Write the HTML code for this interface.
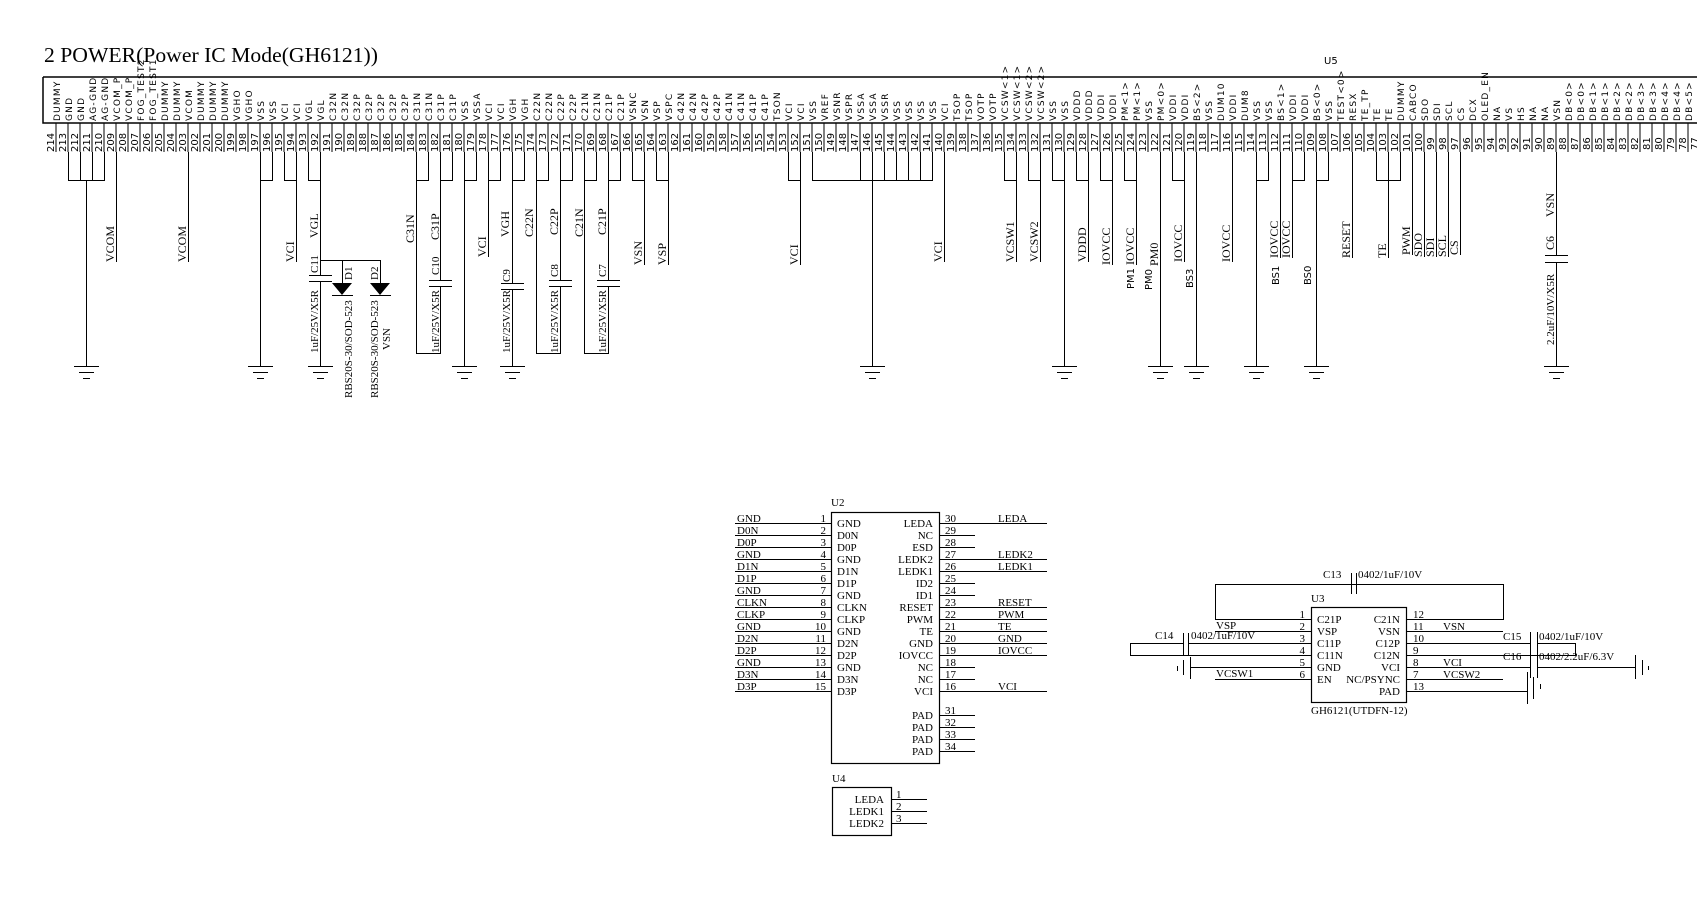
<!DOCTYPE html>
<html><head><meta charset="utf-8"><style>
html,body{margin:0;padding:0;background:#fff;}
svg{display:block;}
.s{font-family:"DejaVu Sans","Liberation Sans",sans-serif;font-size:9px;letter-spacing:1.2px;}
.n{font-family:"DejaVu Sans","Liberation Sans",sans-serif;font-size:10px;}
.r{font-family:"Liberation Serif",serif;font-size:12px;}
.t{font-family:"Liberation Serif",serif;font-size:11px;}
.ss{font-family:"DejaVu Sans","Liberation Sans",sans-serif;font-size:11px;}
</style></head><body>
<svg width="1697" height="907" viewBox="0 0 1697 907" xmlns="http://www.w3.org/2000/svg">
<defs><pattern id="pp" patternUnits="userSpaceOnUse" x="55.5" y="0" width="12" height="10"><rect x="0" y="0" width="1" height="10" fill="#000"/></pattern></defs>
<rect width="1697" height="907" fill="#fff"/>
<text x="44" y="62" font-family="Liberation Serif,serif" font-size="21" textLength="334" lengthAdjust="spacingAndGlyphs">2 POWER(Power IC Mode(GH6121))</text>
<text x="1324" y="64" class="n">U5</text>
<path d="M43 77H1700M43 77V123H1700" stroke="#000" stroke-width="1.5" fill="none"/>
<rect x="55.5" y="123" width="1645" height="29" fill="url(#pp)"/>

<g class="s">
<text transform="translate(60 121)rotate(-90)">DUMMY</text><text transform="translate(72 121)rotate(-90)">GND</text><text transform="translate(84 121)rotate(-90)">GND</text><text transform="translate(96 121)rotate(-90)">AG-GND</text><text transform="translate(108 121)rotate(-90)">AG-GND</text><text transform="translate(120 121)rotate(-90)">VCOM_P</text><text transform="translate(132 121)rotate(-90)">VCOM_P</text><text transform="translate(144 121)rotate(-90)">FOG_TEST2</text><text transform="translate(156 121)rotate(-90)">FOG_TEST1</text><text transform="translate(168 121)rotate(-90)">DUMMY</text><text transform="translate(180 121)rotate(-90)">DUMMY</text><text transform="translate(192 121)rotate(-90)">VCOM</text><text transform="translate(204 121)rotate(-90)">DUMMY</text><text transform="translate(216 121)rotate(-90)">DUMMY</text><text transform="translate(228 121)rotate(-90)">DUMMY</text><text transform="translate(240 121)rotate(-90)">VGHO</text><text transform="translate(252 121)rotate(-90)">VGHO</text><text transform="translate(264 121)rotate(-90)">VSS</text><text transform="translate(276 121)rotate(-90)">VSS</text><text transform="translate(288 121)rotate(-90)">VCI</text><text transform="translate(300 121)rotate(-90)">VCI</text><text transform="translate(312 121)rotate(-90)">VGL</text><text transform="translate(324 121)rotate(-90)">VGL</text><text transform="translate(336 121)rotate(-90)">C32N</text><text transform="translate(348 121)rotate(-90)">C32N</text><text transform="translate(360 121)rotate(-90)">C32P</text><text transform="translate(372 121)rotate(-90)">C32P</text><text transform="translate(384 121)rotate(-90)">C32P</text><text transform="translate(396 121)rotate(-90)">C32P</text><text transform="translate(408 121)rotate(-90)">C32P</text><text transform="translate(420 121)rotate(-90)">C31N</text><text transform="translate(432 121)rotate(-90)">C31N</text><text transform="translate(444 121)rotate(-90)">C31P</text><text transform="translate(456 121)rotate(-90)">C31P</text><text transform="translate(468 121)rotate(-90)">VSS</text><text transform="translate(480 121)rotate(-90)">VSSA</text><text transform="translate(492 121)rotate(-90)">VCI</text><text transform="translate(504 121)rotate(-90)">VCI</text><text transform="translate(516 121)rotate(-90)">VGH</text><text transform="translate(528 121)rotate(-90)">VGH</text><text transform="translate(540 121)rotate(-90)">C22N</text><text transform="translate(552 121)rotate(-90)">C22N</text><text transform="translate(564 121)rotate(-90)">C22P</text><text transform="translate(576 121)rotate(-90)">C22P</text><text transform="translate(588 121)rotate(-90)">C21N</text><text transform="translate(600 121)rotate(-90)">C21N</text><text transform="translate(612 121)rotate(-90)">C21P</text><text transform="translate(624 121)rotate(-90)">C21P</text><text transform="translate(636 121)rotate(-90)">VSNC</text><text transform="translate(648 121)rotate(-90)">VSN</text><text transform="translate(660 121)rotate(-90)">VSP</text><text transform="translate(672 121)rotate(-90)">VSPC</text><text transform="translate(684 121)rotate(-90)">C42N</text><text transform="translate(696 121)rotate(-90)">C42N</text><text transform="translate(708 121)rotate(-90)">C42P</text><text transform="translate(720 121)rotate(-90)">C42P</text><text transform="translate(732 121)rotate(-90)">C41N</text><text transform="translate(744 121)rotate(-90)">C41N</text><text transform="translate(756 121)rotate(-90)">C41P</text><text transform="translate(768 121)rotate(-90)">C41P</text><text transform="translate(780 121)rotate(-90)">TSON</text><text transform="translate(792 121)rotate(-90)">VCI</text><text transform="translate(804 121)rotate(-90)">VCI</text><text transform="translate(816 121)rotate(-90)">VSS</text><text transform="translate(828 121)rotate(-90)">VREF</text><text transform="translate(840 121)rotate(-90)">VSNR</text><text transform="translate(852 121)rotate(-90)">VSPR</text><text transform="translate(864 121)rotate(-90)">VSSA</text><text transform="translate(876 121)rotate(-90)">VSSA</text><text transform="translate(888 121)rotate(-90)">VSSR</text><text transform="translate(900 121)rotate(-90)">VSS</text><text transform="translate(912 121)rotate(-90)">VSS</text><text transform="translate(924 121)rotate(-90)">VSS</text><text transform="translate(936 121)rotate(-90)">VSS</text><text transform="translate(948 121)rotate(-90)">VCI</text><text transform="translate(960 121)rotate(-90)">TSOP</text><text transform="translate(972 121)rotate(-90)">TSOP</text><text transform="translate(984 121)rotate(-90)">VOTP</text><text transform="translate(996 121)rotate(-90)">VOTP</text><text transform="translate(1008 121)rotate(-90)">VCSW&lt;1&gt;</text><text transform="translate(1020 121)rotate(-90)">VCSW&lt;1&gt;</text><text transform="translate(1032 121)rotate(-90)">VCSW&lt;2&gt;</text><text transform="translate(1044 121)rotate(-90)">VCSW&lt;2&gt;</text><text transform="translate(1056 121)rotate(-90)">VSS</text><text transform="translate(1068 121)rotate(-90)">VSS</text><text transform="translate(1080 121)rotate(-90)">VDDD</text><text transform="translate(1092 121)rotate(-90)">VDDD</text><text transform="translate(1104 121)rotate(-90)">VDDI</text><text transform="translate(1116 121)rotate(-90)">VDDI</text><text transform="translate(1128 121)rotate(-90)">PM&lt;1&gt;</text><text transform="translate(1140 121)rotate(-90)">PM&lt;1&gt;</text><text transform="translate(1152 121)rotate(-90)">VSS</text><text transform="translate(1164 121)rotate(-90)">PM&lt;0&gt;</text><text transform="translate(1176 121)rotate(-90)">VDDI</text><text transform="translate(1188 121)rotate(-90)">VDDI</text><text transform="translate(1200 121)rotate(-90)">BS&lt;2&gt;</text><text transform="translate(1212 121)rotate(-90)">VSS</text><text transform="translate(1224 121)rotate(-90)">DUM10</text><text transform="translate(1236 121)rotate(-90)">VDDI</text><text transform="translate(1248 121)rotate(-90)">DUM8</text><text transform="translate(1260 121)rotate(-90)">VSS</text><text transform="translate(1272 121)rotate(-90)">VSS</text><text transform="translate(1284 121)rotate(-90)">BS&lt;1&gt;</text><text transform="translate(1296 121)rotate(-90)">VDDI</text><text transform="translate(1308 121)rotate(-90)">VDDI</text><text transform="translate(1320 121)rotate(-90)">BS&lt;0&gt;</text><text transform="translate(1332 121)rotate(-90)">VSS</text><text transform="translate(1344 121)rotate(-90)">TEST&lt;0&gt;</text><text transform="translate(1356 121)rotate(-90)">RESX</text><text transform="translate(1368 121)rotate(-90)">TE_TP</text><text transform="translate(1380 121)rotate(-90)">TE</text><text transform="translate(1392 121)rotate(-90)">TE</text><text transform="translate(1404 121)rotate(-90)">DUMMY</text><text transform="translate(1416 121)rotate(-90)">CABCO</text><text transform="translate(1428 121)rotate(-90)">SDO</text><text transform="translate(1440 121)rotate(-90)">SDI</text><text transform="translate(1452 121)rotate(-90)">SCL</text><text transform="translate(1464 121)rotate(-90)">CS</text><text transform="translate(1476 121)rotate(-90)">DCX</text><text transform="translate(1488 121)rotate(-90)">OLED_EN</text><text transform="translate(1500 121)rotate(-90)">NA</text><text transform="translate(1512 121)rotate(-90)">VS</text><text transform="translate(1524 121)rotate(-90)">HS</text><text transform="translate(1536 121)rotate(-90)">NA</text><text transform="translate(1548 121)rotate(-90)">NA</text><text transform="translate(1560 121)rotate(-90)">VSN</text><text transform="translate(1572 121)rotate(-90)">DB&lt;0&gt;</text><text transform="translate(1584 121)rotate(-90)">DB&lt;0&gt;</text><text transform="translate(1596 121)rotate(-90)">DB&lt;1&gt;</text><text transform="translate(1608 121)rotate(-90)">DB&lt;1&gt;</text><text transform="translate(1620 121)rotate(-90)">DB&lt;2&gt;</text><text transform="translate(1632 121)rotate(-90)">DB&lt;2&gt;</text><text transform="translate(1644 121)rotate(-90)">DB&lt;3&gt;</text><text transform="translate(1656 121)rotate(-90)">DB&lt;3&gt;</text><text transform="translate(1668 121)rotate(-90)">DB&lt;4&gt;</text><text transform="translate(1680 121)rotate(-90)">DB&lt;4&gt;</text><text transform="translate(1692 121)rotate(-90)">DB&lt;5&gt;</text>
</g>

<g class="n">
<text transform="translate(54 152)rotate(-90)">214</text><text transform="translate(66 152)rotate(-90)">213</text><text transform="translate(78 152)rotate(-90)">212</text><text transform="translate(90 152)rotate(-90)">211</text><text transform="translate(102 152)rotate(-90)">210</text><text transform="translate(114 152)rotate(-90)">209</text><text transform="translate(126 152)rotate(-90)">208</text><text transform="translate(138 152)rotate(-90)">207</text><text transform="translate(150 152)rotate(-90)">206</text><text transform="translate(162 152)rotate(-90)">205</text><text transform="translate(174 152)rotate(-90)">204</text><text transform="translate(186 152)rotate(-90)">203</text><text transform="translate(198 152)rotate(-90)">202</text><text transform="translate(210 152)rotate(-90)">201</text><text transform="translate(222 152)rotate(-90)">200</text><text transform="translate(234 152)rotate(-90)">199</text><text transform="translate(246 152)rotate(-90)">198</text><text transform="translate(258 152)rotate(-90)">197</text><text transform="translate(270 152)rotate(-90)">196</text><text transform="translate(282 152)rotate(-90)">195</text><text transform="translate(294 152)rotate(-90)">194</text><text transform="translate(306 152)rotate(-90)">193</text><text transform="translate(318 152)rotate(-90)">192</text><text transform="translate(330 152)rotate(-90)">191</text><text transform="translate(342 152)rotate(-90)">190</text><text transform="translate(354 152)rotate(-90)">189</text><text transform="translate(366 152)rotate(-90)">188</text><text transform="translate(378 152)rotate(-90)">187</text><text transform="translate(390 152)rotate(-90)">186</text><text transform="translate(402 152)rotate(-90)">185</text><text transform="translate(414 152)rotate(-90)">184</text><text transform="translate(426 152)rotate(-90)">183</text><text transform="translate(438 152)rotate(-90)">182</text><text transform="translate(450 152)rotate(-90)">181</text><text transform="translate(462 152)rotate(-90)">180</text><text transform="translate(474 152)rotate(-90)">179</text><text transform="translate(486 152)rotate(-90)">178</text><text transform="translate(498 152)rotate(-90)">177</text><text transform="translate(510 152)rotate(-90)">176</text><text transform="translate(522 152)rotate(-90)">175</text><text transform="translate(534 152)rotate(-90)">174</text><text transform="translate(546 152)rotate(-90)">173</text><text transform="translate(558 152)rotate(-90)">172</text><text transform="translate(570 152)rotate(-90)">171</text><text transform="translate(582 152)rotate(-90)">170</text><text transform="translate(594 152)rotate(-90)">169</text><text transform="translate(606 152)rotate(-90)">168</text><text transform="translate(618 152)rotate(-90)">167</text><text transform="translate(630 152)rotate(-90)">166</text><text transform="translate(642 152)rotate(-90)">165</text><text transform="translate(654 152)rotate(-90)">164</text><text transform="translate(666 152)rotate(-90)">163</text><text transform="translate(678 152)rotate(-90)">162</text><text transform="translate(690 152)rotate(-90)">161</text><text transform="translate(702 152)rotate(-90)">160</text><text transform="translate(714 152)rotate(-90)">159</text><text transform="translate(726 152)rotate(-90)">158</text><text transform="translate(738 152)rotate(-90)">157</text><text transform="translate(750 152)rotate(-90)">156</text><text transform="translate(762 152)rotate(-90)">155</text><text transform="translate(774 152)rotate(-90)">154</text><text transform="translate(786 152)rotate(-90)">153</text><text transform="translate(798 152)rotate(-90)">152</text><text transform="translate(810 152)rotate(-90)">151</text><text transform="translate(822 152)rotate(-90)">150</text><text transform="translate(834 152)rotate(-90)">149</text><text transform="translate(846 152)rotate(-90)">148</text><text transform="translate(858 152)rotate(-90)">147</text><text transform="translate(870 152)rotate(-90)">146</text><text transform="translate(882 152)rotate(-90)">145</text><text transform="translate(894 152)rotate(-90)">144</text><text transform="translate(906 152)rotate(-90)">143</text><text transform="translate(918 152)rotate(-90)">142</text><text transform="translate(930 152)rotate(-90)">141</text><text transform="translate(942 152)rotate(-90)">140</text><text transform="translate(954 152)rotate(-90)">139</text><text transform="translate(966 152)rotate(-90)">138</text><text transform="translate(978 152)rotate(-90)">137</text><text transform="translate(990 152)rotate(-90)">136</text><text transform="translate(1002 152)rotate(-90)">135</text><text transform="translate(1014 152)rotate(-90)">134</text><text transform="translate(1026 152)rotate(-90)">133</text><text transform="translate(1038 152)rotate(-90)">132</text><text transform="translate(1050 152)rotate(-90)">131</text><text transform="translate(1062 152)rotate(-90)">130</text><text transform="translate(1074 152)rotate(-90)">129</text><text transform="translate(1086 152)rotate(-90)">128</text><text transform="translate(1098 152)rotate(-90)">127</text><text transform="translate(1110 152)rotate(-90)">126</text><text transform="translate(1122 152)rotate(-90)">125</text><text transform="translate(1134 152)rotate(-90)">124</text><text transform="translate(1146 152)rotate(-90)">123</text><text transform="translate(1158 152)rotate(-90)">122</text><text transform="translate(1170 152)rotate(-90)">121</text><text transform="translate(1182 152)rotate(-90)">120</text><text transform="translate(1194 152)rotate(-90)">119</text><text transform="translate(1206 152)rotate(-90)">118</text><text transform="translate(1218 152)rotate(-90)">117</text><text transform="translate(1230 152)rotate(-90)">116</text><text transform="translate(1242 152)rotate(-90)">115</text><text transform="translate(1254 152)rotate(-90)">114</text><text transform="translate(1266 152)rotate(-90)">113</text><text transform="translate(1278 152)rotate(-90)">112</text><text transform="translate(1290 152)rotate(-90)">111</text><text transform="translate(1302 152)rotate(-90)">110</text><text transform="translate(1314 152)rotate(-90)">109</text><text transform="translate(1326 152)rotate(-90)">108</text><text transform="translate(1338 152)rotate(-90)">107</text><text transform="translate(1350 152)rotate(-90)">106</text><text transform="translate(1362 152)rotate(-90)">105</text><text transform="translate(1374 152)rotate(-90)">104</text><text transform="translate(1386 152)rotate(-90)">103</text><text transform="translate(1398 152)rotate(-90)">102</text><text transform="translate(1410 152)rotate(-90)">101</text><text transform="translate(1422 152)rotate(-90)">100</text><text transform="translate(1434 150)rotate(-90)">99</text><text transform="translate(1446 150)rotate(-90)">98</text><text transform="translate(1458 150)rotate(-90)">97</text><text transform="translate(1470 150)rotate(-90)">96</text><text transform="translate(1482 150)rotate(-90)">95</text><text transform="translate(1494 150)rotate(-90)">94</text><text transform="translate(1506 150)rotate(-90)">93</text><text transform="translate(1518 150)rotate(-90)">92</text><text transform="translate(1530 150)rotate(-90)">91</text><text transform="translate(1542 150)rotate(-90)">90</text><text transform="translate(1554 150)rotate(-90)">89</text><text transform="translate(1566 150)rotate(-90)">88</text><text transform="translate(1578 150)rotate(-90)">87</text><text transform="translate(1590 150)rotate(-90)">86</text><text transform="translate(1602 150)rotate(-90)">85</text><text transform="translate(1614 150)rotate(-90)">84</text><text transform="translate(1626 150)rotate(-90)">83</text><text transform="translate(1638 150)rotate(-90)">82</text><text transform="translate(1650 150)rotate(-90)">81</text><text transform="translate(1662 150)rotate(-90)">80</text><text transform="translate(1674 150)rotate(-90)">79</text><text transform="translate(1686 150)rotate(-90)">78</text><text transform="translate(1698 150)rotate(-90)">77</text>
</g>

<!-- connections -->
<g stroke="#000" stroke-width="1" fill="none">
<path d="M68.5 152V180.5M80.5 152V180.5M92.5 152V180.5M104.5 152V180.5M68 180.5H105M86.5 180V366"/>
<path d="M116.5 152V262M188.5 152V262"/>
<path d="M260.5 152V366M272.5 152V180.5M260 180.5H273"/>
<path d="M284.5 152V180.5M296.5 152V262M284 180.5H297"/>
<path d="M308.5 152V180.5M320.5 152V275M308 180.5H321M320.5 281V366M320 260.5H380.5M342.5 260V283M380.5 260V283"/>
<path d="M416.5 152V353.5M428.5 152V180.5M416 180.5H429M416 353.5H441M440.5 353.5V286M440.5 152V280M452.5 152V180.5M440 180.5H453"/>
<path d="M464.5 152V366M476.5 152V180.5M464 180.5H477"/>
<path d="M488.5 152V257M500.5 152V180.5M488 180.5H501"/>
<path d="M512.5 152V283M512.5 289V366M524.5 152V180.5M512 180.5H525"/>
<path d="M536.5 152V353.5M548.5 152V180.5M536 180.5H549M536 353.5H561M560.5 353.5V286M560.5 152V280M572.5 152V180.5M560 180.5H573"/>
<path d="M584.5 152V353.5M596.5 152V180.5M584 180.5H597M584 353.5H609M608.5 353.5V286M608.5 152V280M620.5 152V180.5M608 180.5H621"/>
<path d="M632.5 152V180.5M644.5 152V265M632 180.5H645"/>
<path d="M656.5 152V180.5M668.5 152V265M656 180.5H669"/>
<path d="M788.5 152V180.5M800.5 152V265M788 180.5H801"/>
<path d="M812.5 152V180.5M860.5 152V180.5M872.5 152V366M884.5 152V180.5M896.5 152V180.5M908.5 152V180.5M920.5 152V180.5M932.5 152V180.5M812 180.5H933"/>
<path d="M944.5 152V262"/>
<path d="M1004.5 152V180.5M1016.5 152V262M1004 180.5H1017"/>
<path d="M1028.5 152V180.5M1040.5 152V262M1028 180.5H1041"/>
<path d="M1052.5 152V180.5M1064.5 152V366M1052 180.5H1065"/>
<path d="M1076.5 152V180.5M1088.5 152V262M1076 180.5H1089"/>
<path d="M1100.5 152V180.5M1112.5 152V265M1100 180.5H1113"/>
<path d="M1124.5 152V180.5M1136.5 152V265M1124 180.5H1137"/>
<path d="M1160.5 152V366"/>
<path d="M1172.5 152V180.5M1184.5 152V262M1172 180.5H1185"/>
<path d="M1196.5 152V366"/>
<path d="M1232.5 152V262"/>
<path d="M1256.5 152V366M1268.5 152V180.5M1256 180.5H1269"/>
<path d="M1280.5 152V258"/>
<path d="M1292.5 152V258M1304.5 152V180.5M1292 180.5H1305"/>
<path d="M1316.5 152V366M1328.5 152V180.5M1316 180.5H1329"/>
<path d="M1352.5 152V258"/>
<path d="M1376.5 152V180.5M1388.5 152V258M1400.5 152V180.5M1376 180.5H1401"/>
<path d="M1412.5 152V255M1424.5 152V257M1436.5 152V257M1448.5 152V257M1460.5 152V255"/>
<path d="M1556.5 152V255M1556.5 262V366"/>
<!-- caps -->
<path d="M309 275.5H332M309 281.5H332M429 280.5H452M429 286.5H452M501 283.5H524M501 289.5H524M549 280.5H572M549 286.5H572M597 280.5H620M597 286.5H620M1545 255.5H1568M1545 262.5H1568"/>
<!-- grounds -->
<path d="M74 366.5H99M79 372.5H94M83 378.5H90 M248 366.5H273M253 372.5H268M257 378.5H264 M308 366.5H333M313 372.5H328M317 378.5H324 M452 366.5H477M457 372.5H472M461 378.5H468 M500 366.5H525M505 372.5H520M509 378.5H516 M860 366.5H885M865 372.5H880M869 378.5H876 M1052 366.5H1077M1057 372.5H1072M1061 378.5H1068 M1148 366.5H1173M1153 372.5H1168M1157 378.5H1164 M1184 366.5H1209M1189 372.5H1204M1193 378.5H1200 M1244 366.5H1269M1249 372.5H1264M1253 378.5H1260 M1304 366.5H1329M1309 372.5H1324M1313 378.5H1320 M1544 366.5H1569M1549 372.5H1564M1553 378.5H1560"/>
<path d="M332 295.5H353M370 295.5H391"/>
</g>
<path d="M332 283L352 283L342 295Z M370 283L390 283L380 295Z" fill="#000"/>

<g class="r">
<text transform="translate(114 262)rotate(-90)">VCOM</text>
<text transform="translate(186 262)rotate(-90)">VCOM</text>
<text transform="translate(294 262)rotate(-90)">VCI</text>
<text transform="translate(318 238)rotate(-90)">VGL</text>
<text transform="translate(486 257)rotate(-90)">VCI</text>
<text transform="translate(414 243)rotate(-90)">C31N</text>
<text transform="translate(439 240)rotate(-90)">C31P</text>
<text transform="translate(509 237)rotate(-90)">VGH</text>
<text transform="translate(533 237)rotate(-90)">C22N</text>
<text transform="translate(558 235)rotate(-90)">C22P</text>
<text transform="translate(583 237)rotate(-90)">C21N</text>
<text transform="translate(606 235)rotate(-90)">C21P</text>
<text transform="translate(642 265)rotate(-90)">VSN</text>
<text transform="translate(666 265)rotate(-90)">VSP</text>
<text transform="translate(798 265)rotate(-90)">VCI</text>
<text transform="translate(942 262)rotate(-90)">VCI</text>
<text transform="translate(1014 262)rotate(-90)">VCSW1</text>
<text transform="translate(1038 262)rotate(-90)">VCSW2</text>
<text transform="translate(1086 262)rotate(-90)">VDDD</text>
<text transform="translate(1110 265)rotate(-90)">IOVCC</text>
<text transform="translate(1134 265)rotate(-90)">IOVCC</text>
<text transform="translate(1158 266)rotate(-90)">PM0</text>
<text transform="translate(1182 262)rotate(-90)">IOVCC</text>
<text transform="translate(1230 262)rotate(-90)">IOVCC</text>
<text transform="translate(1278 258)rotate(-90)">IOVCC</text>
<text transform="translate(1290 258)rotate(-90)">IOVCC</text>
<text transform="translate(1350 258)rotate(-90)">RESET</text>
<text transform="translate(1386 258)rotate(-90)">TE</text>
<text transform="translate(1410 255)rotate(-90)">PWM</text>
<text transform="translate(1422 257)rotate(-90)">SDO</text>
<text transform="translate(1434 257)rotate(-90)">SDI</text>
<text transform="translate(1446 257)rotate(-90)">SCL</text>
<text transform="translate(1458 255)rotate(-90)">CS</text>
<text transform="translate(1554 217)rotate(-90)">VSN</text>
<text transform="translate(1554 250)rotate(-90)">C6</text>
</g>
<g class="t">
<text transform="translate(318 273)rotate(-90)">C11</text>
<text transform="translate(318 353)rotate(-90)">1uF/25V/X5R</text>
<text transform="translate(352 280)rotate(-90)">D1</text>
<text transform="translate(352 398)rotate(-90)">RBS20S-30/SOD-523</text>
<text transform="translate(378 280)rotate(-90)">D2</text>
<text transform="translate(378 398)rotate(-90)">RBS20S-30/SOD-523</text>
<text transform="translate(390 350)rotate(-90)">VSN</text>
<text transform="translate(439 275)rotate(-90)">C10</text>
<text transform="translate(439 353)rotate(-90)">1uF/25V/X5R</text>
<text transform="translate(510 282)rotate(-90)">C9</text>
<text transform="translate(510 353)rotate(-90)">1uF/25V/X5R</text>
<text transform="translate(558 277)rotate(-90)">C8</text>
<text transform="translate(558 353)rotate(-90)">1uF/25V/X5R</text>
<text transform="translate(606 277)rotate(-90)">C7</text>
<text transform="translate(606 353)rotate(-90)">1uF/25V/X5R</text>
<text transform="translate(1554 345)rotate(-90)">2.2uF/10V/X5R</text>
</g>
<g class="n">
<text transform="translate(1134 289)rotate(-90)">PM1</text>
<text transform="translate(1152 290)rotate(-90)">PM0</text>
<text transform="translate(1193 288)rotate(-90)">BS3</text>
<text transform="translate(1279 285)rotate(-90)">BS1</text>
<text transform="translate(1311 285)rotate(-90)">BS0</text>
</g>

<!-- U2 -->
<g stroke="#000" fill="none">
<rect x="831.5" y="512.5" width="108" height="251" stroke-width="1.2"/>
<path stroke-width="1" d="M735 523.5H831M735 535.5H831M735 547.5H831M735 559.5H831M735 571.5H831M735 583.5H831M735 595.5H831M735 607.5H831M735 619.5H831M735 631.5H831M735 643.5H831M735 655.5H831M735 667.5H831M735 679.5H831M735 691.5H831
M939 523.5H1047M939 535.5H975M939 547.5H975M939 559.5H1047M939 571.5H1047M939 583.5H975M939 595.5H975M939 607.5H1047M939 619.5H1047M939 631.5H1047M939 643.5H1047M939 655.5H1047M939 667.5H975M939 679.5H975M939 691.5H1047
M939 715.5H975M939 727.5H975M939 739.5H975M939 751.5H975"/>
<rect x="832.5" y="787.5" width="59" height="48" stroke-width="1.2"/>
<path stroke-width="1" d="M891 799.5H927M891 811.5H927M891 823.5H927"/>
</g>
<g class="t">
<text x="831" y="506">U2</text>
<text x="737" y="522">GND</text><text x="737" y="534">D0N</text><text x="737" y="546">D0P</text><text x="737" y="558">GND</text><text x="737" y="570">D1N</text><text x="737" y="582">D1P</text><text x="737" y="594">GND</text><text x="737" y="606">CLKN</text><text x="737" y="618">CLKP</text><text x="737" y="630">GND</text><text x="737" y="642">D2N</text><text x="737" y="654">D2P</text><text x="737" y="666">GND</text><text x="737" y="678">D3N</text><text x="737" y="690">D3P</text>
<g text-anchor="end"><text x="826" y="522">1</text><text x="826" y="534">2</text><text x="826" y="546">3</text><text x="826" y="558">4</text><text x="826" y="570">5</text><text x="826" y="582">6</text><text x="826" y="594">7</text><text x="826" y="606">8</text><text x="826" y="618">9</text><text x="826" y="630">10</text><text x="826" y="642">11</text><text x="826" y="654">12</text><text x="826" y="666">13</text><text x="826" y="678">14</text><text x="826" y="690">15</text></g>
<text x="837" y="527">GND</text><text x="837" y="539">D0N</text><text x="837" y="551">D0P</text><text x="837" y="563">GND</text><text x="837" y="575">D1N</text><text x="837" y="587">D1P</text><text x="837" y="599">GND</text><text x="837" y="611">CLKN</text><text x="837" y="623">CLKP</text><text x="837" y="635">GND</text><text x="837" y="647">D2N</text><text x="837" y="659">D2P</text><text x="837" y="671">GND</text><text x="837" y="683">D3N</text><text x="837" y="695">D3P</text>
<g text-anchor="end"><text x="933" y="527">LEDA</text><text x="933" y="539">NC</text><text x="933" y="551">ESD</text><text x="933" y="563">LEDK2</text><text x="933" y="575">LEDK1</text><text x="933" y="587">ID2</text><text x="933" y="599">ID1</text><text x="933" y="611">RESET</text><text x="933" y="623">PWM</text><text x="933" y="635">TE</text><text x="933" y="647">GND</text><text x="933" y="659">IOVCC</text><text x="933" y="671">NC</text><text x="933" y="683">NC</text><text x="933" y="695">VCI</text>
<text x="933" y="719">PAD</text><text x="933" y="731">PAD</text><text x="933" y="743">PAD</text><text x="933" y="755">PAD</text></g>
<text x="945" y="522">30</text><text x="945" y="534">29</text><text x="945" y="546">28</text><text x="945" y="558">27</text><text x="945" y="570">26</text><text x="945" y="582">25</text><text x="945" y="594">24</text><text x="945" y="606">23</text><text x="945" y="618">22</text><text x="945" y="630">21</text><text x="945" y="642">20</text><text x="945" y="654">19</text><text x="945" y="666">18</text><text x="945" y="678">17</text><text x="945" y="690">16</text>
<text x="945" y="714">31</text><text x="945" y="726">32</text><text x="945" y="738">33</text><text x="945" y="750">34</text>
<text x="998" y="522">LEDA</text><text x="998" y="558">LEDK2</text><text x="998" y="570">LEDK1</text><text x="998" y="606">RESET</text><text x="998" y="618">PWM</text><text x="998" y="630">TE</text><text x="998" y="642">GND</text><text x="998" y="654">IOVCC</text><text x="998" y="690">VCI</text>
<text x="832" y="782">U4</text>
<g text-anchor="end"><text x="884" y="803">LEDA</text><text x="884" y="815">LEDK1</text><text x="884" y="827">LEDK2</text></g>
<text x="896" y="798">1</text><text x="896" y="810">2</text><text x="896" y="822">3</text>
</g>

<!-- U3 -->
<g stroke="#000" fill="none" stroke-width="1">
<rect x="1311.5" y="607.5" width="95" height="95" stroke-width="1.2"/>
<path d="M1311 619.5H1215.5V584.5H1503.5V619.5H1406 M1351.5 573V594M1356.5 573V594
M1215 631.5H1311M1188 643.5H1311M1183 643.5H1130.5V655.5H1311M1183.5 633V655M1188.5 633V655
M1190.5 667.5H1311M1190.5 657V679M1183.5 660V675M1177.5 666V671
M1215 679.5H1311
M1406 631.5H1503M1406 643.5H1530M1537 643.5H1575.5V655.5H1406M1530.5 632V678M1537.5 632V678
M1406 667.5H1530M1537 667.5H1635M1635.5 655V679M1642.5 660V675M1648.5 666V670
M1406 679.5H1503M1406 691.5H1527M1527.5 672V704M1533.5 677V699M1540.5 684V689"/>
</g>
<g class="t">
<text x="1311" y="602">U3</text>
<text x="1311" y="714">GH6121(UTDFN-12)</text>
<text x="1323" y="578">C13</text><text x="1358" y="578">0402/1uF/10V</text>
<text x="1155" y="639">C14</text><text x="1191" y="639">0402/1uF/10V</text>
<text x="1216" y="629">VSP</text><text x="1216" y="677">VCSW1</text>
<g text-anchor="end"><text x="1305" y="618">1</text><text x="1305" y="630">2</text><text x="1305" y="642">3</text><text x="1305" y="654">4</text><text x="1305" y="666">5</text><text x="1305" y="678">6</text></g>
<text x="1317" y="623">C21P</text><text x="1317" y="635">VSP</text><text x="1317" y="647">C11P</text><text x="1317" y="659">C11N</text><text x="1317" y="671">GND</text><text x="1317" y="683">EN</text>
<g text-anchor="end"><text x="1400" y="623">C21N</text><text x="1400" y="635">VSN</text><text x="1400" y="647">C12P</text><text x="1400" y="659">C12N</text><text x="1400" y="671">VCI</text><text x="1400" y="683">NC/PSYNC</text><text x="1400" y="695">PAD</text></g>
<text x="1413" y="618">12</text><text x="1413" y="630">11</text><text x="1413" y="642">10</text><text x="1413" y="654">9</text><text x="1413" y="666">8</text><text x="1413" y="678">7</text><text x="1413" y="690">13</text>
<text x="1443" y="630">VSN</text><text x="1443" y="666">VCI</text><text x="1443" y="678">VCSW2</text>
<text x="1503" y="640">C15</text><text x="1539" y="640">0402/1uF/10V</text>
<text x="1503" y="660">C16</text><text x="1539" y="660">0402/2.2uF/6.3V</text>
</g>
</svg>
</body></html>
